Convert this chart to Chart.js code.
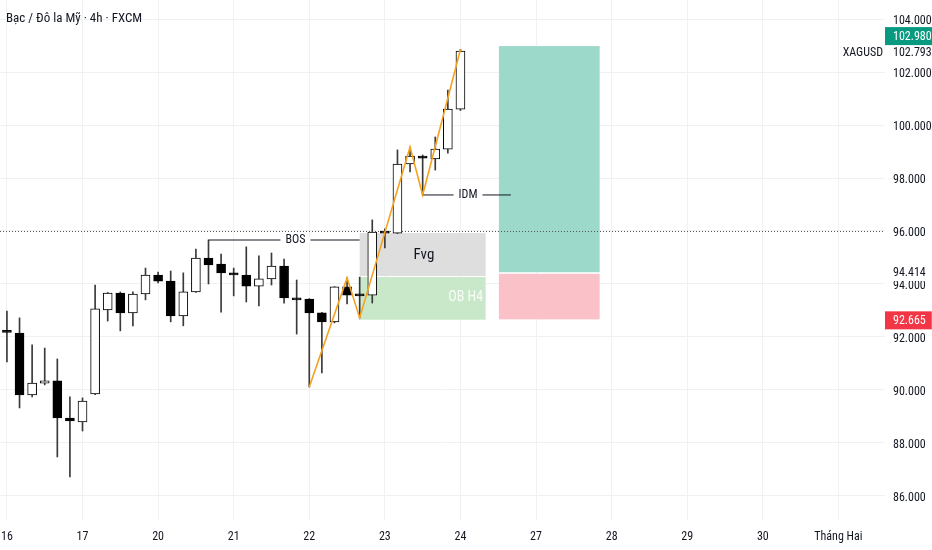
<!DOCTYPE html>
<html>
<head>
<meta charset="utf-8">
<script src="https://cdn.jsdelivr.net/npm/chart.js@4.4.1/dist/chart.umd.min.js"></script>
<style>
  html, body { margin: 0; padding: 0; background: #fff; }
  #wrap { width: 932px; height: 550px; position: relative; }
</style>
</head>
<body>
<div id="wrap"><canvas id="c"></canvas></div>
<script>
// 4h candles, index 0 = first bar of the 16th
const opens  = [92.19, 92.15, 89.81, 90.26, 90.34, 88.94, 88.79, 89.85, 93.02, 93.66, 92.91, 93.62, 94.34, 94.11, 92.79, 93.70, 94.98, 94.75, 94.42, 94.34, 93.92, 94.19, 94.68, 93.47, 93.43, 92.91, 92.57, 93.89, 93.62, 93.58, 95.96, 95.92, 98.53, 98.83, 98.72, 99.09, 100.60];
const highs  = [92.98, 92.72, 91.70, 91.58, 91.17, 89.74, 89.70, 93.96, 93.68, 93.70, 93.70, 94.60, 94.45, 94.49, 94.42, 95.32, 95.66, 95.13, 94.60, 95.40, 95.06, 95.17, 94.94, 94.15, 93.45, 92.93, 93.90, 94.23, 94.26, 96.42, 96.08, 99.06, 99.17, 98.87, 99.55, 101.32, 102.85];
const lows   = [91.06, 89.32, 89.74, 90.19, 87.47, 86.72, 88.45, 89.82, 92.60, 92.23, 92.42, 93.40, 94.04, 92.57, 92.42, 93.68, 94.00, 92.94, 93.55, 93.32, 93.17, 93.96, 93.28, 92.11, 90.11, 90.64, 92.53, 93.25, 92.72, 93.28, 95.36, 95.90, 98.23, 97.36, 98.30, 98.94, 100.55];
const closes = [92.17, 89.81, 90.26, 90.34, 88.94, 88.83, 89.58, 93.06, 93.66, 92.91, 93.62, 94.34, 94.11, 92.79, 93.70, 94.98, 94.72, 94.42, 94.34, 93.92, 94.19, 94.68, 93.47, 93.40, 92.91, 92.57, 93.89, 93.58, 93.55, 95.96, 95.92, 98.53, 98.83, 98.75, 99.09, 100.60, 102.79];

// time axis: bar index of each day label
const dayIdx    = [0, 6, 12, 18, 24, 30, 36, 42, 48, 54, 60, 66];
const dayLabels = ['16', '17', '20', '21', '22', '23', '24', '27', '28', '29', '30', 'Tháng Hai'];
const priceTicks = [86, 88, 90, 92, 94, 96, 98, 100, 102, 104];

// drawings (bar index, price)
const zigzag = [[24, 90.11], [27, 94.23], [28, 92.72], [32, 99.17], [33, 97.36], [36, 102.85]];
const bosLine = [[16, 95.66], [28, 95.66]];
const idmLine = [[33, 97.36], [40, 97.36]];
const fvgBox = [28, 38, 95.92, 94.30];
const obBox  = [28, 38, 94.26, 92.65];
const tpPrice = 102.980, entryPrice = 94.414, slPrice = 92.665;
const posFrom = 39.05, posTo = 47.05;
const lastPrice = 102.793;
const hLine = 96.0;

const narrow = '"Liberation Sans Narrow", "Roboto Condensed", sans-serif';

const bodies = opens.map((o, i) => ({ x: i, y: [o, closes[i]] }));
const wicks  = lows.map((l, i) => ({ x: i, y: [l, highs[i]] }));
const bull = opens.map((o, i) => closes[i] >= o);

// no extra room for edge labels, the plot runs to the canvas edge
const noPad = s => { s.paddingLeft = s.paddingRight = s.paddingTop = s.paddingBottom = 0; };

const overlay = {
  id: 'overlay',
  beforeDatasetsDraw(chart) {
    const { ctx, chartArea: a, scales: { x, y } } = chart;
    ctx.save();
    const rect = (x0, x1, y0, y1, col) => {
      const px0 = x.getPixelForValue(x0), px1 = x.getPixelForValue(x1);
      const py0 = y.getPixelForValue(y0), py1 = y.getPixelForValue(y1);
      ctx.fillStyle = col;
      ctx.fillRect(px0, py0, px1 - px0, py1 - py0);
    };
    rect(fvgBox[0], fvgBox[1], fvgBox[2], fvgBox[3], '#dedede');
    rect(obBox[0], obBox[1], obBox[2], obBox[3], '#c9e8c9');
    rect(posFrom, posTo, tpPrice, entryPrice + 0.03, '#9dd9cb');
    rect(posFrom, posTo, entryPrice - 0.03, slPrice, '#fbc1c8');

    // dotted price line
    const py = Math.round(y.getPixelForValue(hLine)) + 0.5;
    ctx.strokeStyle = '#555';
    ctx.lineWidth = 1;
    ctx.setLineDash([1, 2]);
    ctx.beginPath();
    ctx.moveTo(a.left, py);
    ctx.lineTo(a.right, py);
    ctx.stroke();
    ctx.restore();
  },
  afterDatasetsDraw(chart) {
    const { ctx, scales: { x, y } } = chart;
    ctx.save();
    ctx.textBaseline = 'middle';
    const label = (txt, xi, v, font, col, bg) => {
      const px = x.getPixelForValue(xi), py = y.getPixelForValue(v);
      ctx.font = font;
      const w = ctx.measureText(txt).width;
      if (bg) {
        ctx.fillStyle = bg;
        ctx.fillRect(px - w / 2 - 5, py - 3, w + 10, 6);
      }
      ctx.fillStyle = col;
      ctx.textAlign = 'center';
      ctx.fillText(txt, px, py);
    };
    label('BOS', 22.9, bosLine[0][1], '12px ' + narrow, '#131722', '#fff');
    label('IDM', 36.6, idmLine[0][1], '12px ' + narrow, '#131722', '#fff');
    label('Fvg', 33.1, 95.09, '15px ' + narrow, '#131722');
    ctx.font = '14px ' + narrow;
    ctx.textAlign = 'right';
    ctx.fillStyle = 'rgba(255,255,255,0.85)';
    ctx.fillText('OB H4', x.getPixelForValue(37.8), y.getPixelForValue(93.5));
    ctx.restore();
  },
  afterDraw(chart) {
    const { ctx, chartArea: a, scales: { y } } = chart;
    ctx.save();
    ctx.textBaseline = 'middle';
    ctx.font = '12px ' + narrow;
    const lx = a.right + 8;
    const tag = (txt, py, bg, fg) => {
      const w = ctx.measureText(txt).width;
      ctx.fillStyle = bg;
      ctx.fillRect(a.right, py - 9, w + 14, 18);
      ctx.fillStyle = fg;
      ctx.textAlign = 'left';
      ctx.fillText(txt, lx, py + 0.5);
    };
    tag(entryPrice.toFixed(3), y.getPixelForValue(entryPrice) - 1, '#fff', '#131722');
    tag(slPrice.toFixed(3), y.getPixelForValue(slPrice) + 1, '#f23645', '#fff');
    tag(lastPrice.toFixed(3), y.getPixelForValue(lastPrice) + 1, '#fff', '#131722');
    tag(tpPrice.toFixed(3), y.getPixelForValue(tpPrice) - 10, '#089981', '#fff');
    ctx.fillStyle = '#131722';
    ctx.textAlign = 'right';
    ctx.fillText('XAGUSD', a.right - 2, y.getPixelForValue(lastPrice) + 1.5);

    ctx.font = '13px ' + narrow;
    ctx.textAlign = 'left';
    ctx.fillText('Bạc / Đô la Mỹ · 4h · FXCM', 6, 19);
    ctx.restore();
  }
};

new Chart(document.getElementById('c'), {
  type: 'bar',
  data: {
    datasets: [
      {
        type: 'line',
        data: zigzag.map(p => ({ x: p[0], y: p[1] })),
        borderColor: '#f5a21f',
        borderWidth: 1.6,
        pointRadius: 0,
        order: 0
      },
      {
        type: 'line',
        data: bosLine.map(p => ({ x: p[0], y: p[1] })),
        borderColor: '#131722',
        borderWidth: 1,
        pointRadius: 0,
        order: 0
      },
      {
        type: 'line',
        data: idmLine.map(p => ({ x: p[0], y: p[1] })),
        borderColor: '#131722',
        borderWidth: 1,
        pointRadius: 0,
        order: 0
      },
      {
        data: bodies,
        grouped: false,
        barThickness: 9,
        minBarLength: 2,
        backgroundColor: bull.map(b => b ? '#ffffff' : '#000000'),
        borderColor: '#000000',
        borderWidth: 1,
        borderSkipped: false,
        order: 1
      },
      {
        data: wicks,
        grouped: false,
        barThickness: 1,
        backgroundColor: '#3a3a3a',
        borderWidth: 0,
        order: 2
      }
    ]
  },
  options: {
    responsive: true,
    maintainAspectRatio: false,
    animation: false,
    layout: { padding: 0 },
    plugins: { legend: { display: false }, tooltip: { enabled: false } },
    scales: {
      x: {
        type: 'linear',
        offset: false,
        min: -0.55,
        max: 69.7,
        grid: { color: '#f0f1f3', drawTicks: false, offset: false },
        border: { display: false },
        afterBuildTicks: s => { s.ticks = dayIdx.map(v => ({ value: v })); },
        afterFit: s => { s.height = 30; noPad(s); },
        ticks: {
          padding: 10,
          maxRotation: 0,
          autoSkip: false,
          color: '#131722',
          font: { family: narrow, size: 12 },
          callback: v => dayLabels[dayIdx.indexOf(v)]
        }
      },
      y: {
        position: 'right',
        min: 85.09,
        max: 104.72,
        grid: { color: '#f0f1f3', drawTicks: false },
        border: { display: false },
        afterBuildTicks: s => { s.ticks = priceTicks.map(v => ({ value: v })); },
        afterFit: s => { s.width = 47; noPad(s); },
        ticks: {
          padding: 8,
          labelOffset: 2,
          color: '#131722',
          font: { family: narrow, size: 12 },
          callback: v => v.toFixed(3)
        }
      }
    }
  },
  plugins: [overlay]
});
</script>
</body>
</html>
